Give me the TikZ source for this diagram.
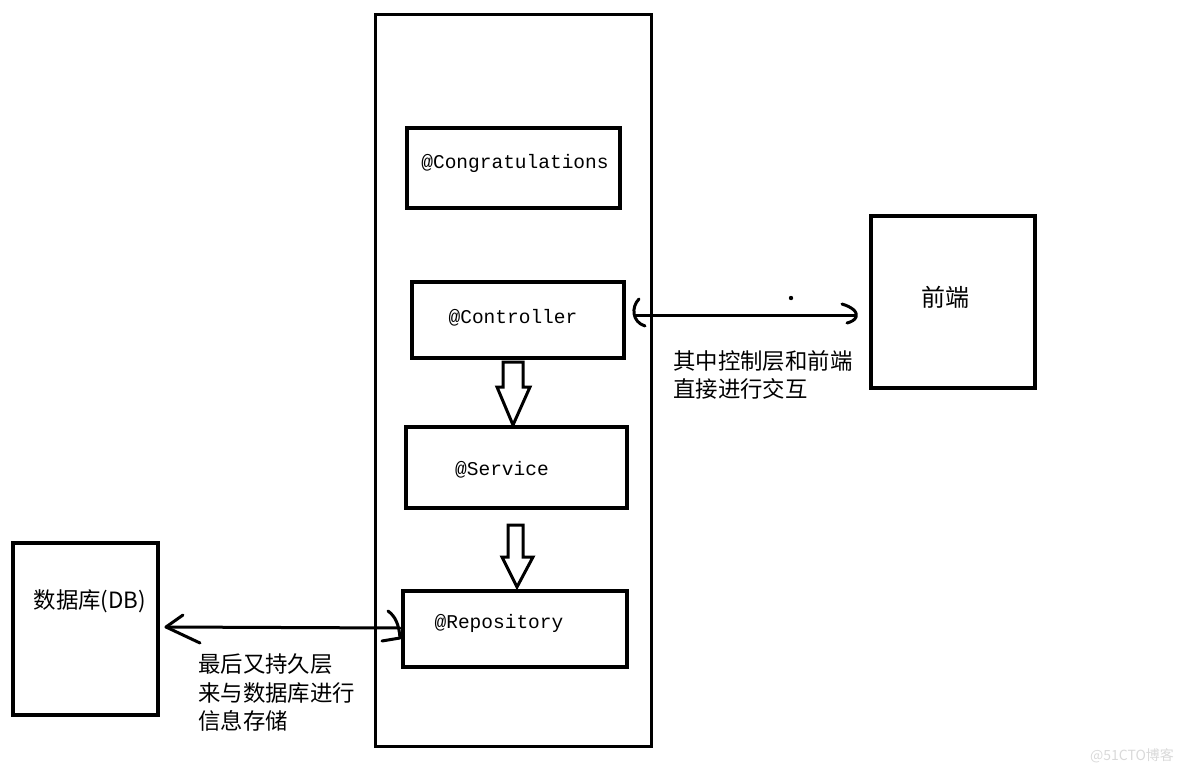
\documentclass[tikz,border=0pt]{standalone}
\usepackage{fontspec}
\setmonofont{Liberation Mono}
\newfontfamily\cjk{Noto Sans CJK SC}
\usetikzlibrary{calc}
\begin{document}
\begin{tikzpicture}[x=1pt,y=-1pt,
  lbl/.style={font=\fontsize{19.5}{22}\ttfamily},
  cjkt/.style={font=\fontsize{22.4}{28.5}\cjk,align=left,anchor=west,inner sep=0},
  conn/.style={line width=3pt,line cap=round,line join=round},
  blk/.style={line width=3pt,line join=miter}]
\useasboundingbox (0,0) rectangle (1184,774);
% main container
\draw[line width=3pt] (375,14) rectangle (651,746);
% inner boxes
\draw[line width=3.5pt] (407,128) rectangle (620,208);
\node[lbl] (cong) at (515,163) {@Congratulations};
\draw[line width=3.5pt] (412,282) rectangle (624,358);
\node[lbl] (ctrl) at (513,318) {@Controller};
\draw[line width=3.5pt] (406,427) rectangle (627,508);
\node[lbl] (serv) at (502,470) {@Service};
\draw[line width=3.5pt] (403,591) rectangle (627,667);
\node[lbl] (repo) at (499,623) {@Repository};
% front end
\draw[line width=3.5pt] (871,216) rectangle (1035,388);
\node[font=\fontsize{24}{26}\cjk] (fe) at (945,297) {前端};
% DB
\draw[line width=3.5pt] (13,543) rectangle (158,715);
\node[font=\fontsize{22.4}{24}\cjk] (db) at (90,601) {数据库(DB)};
% block arrows
\draw[blk] (503,362) -- (523,362) -- (523,387) -- (530,387) -- (513,425) -- (497,387) -- (503,387) -- cycle;
\draw[blk] (508,525) -- (523,525) -- (523,557) -- (533,557) -- (517,587) -- (502,557) -- (508,557) -- cycle;
% controller <-> frontend
\coordinate (c1) at (636,315);
\coordinate (c2) at (855,315);
\draw[conn] (c1) -- (c2);
\draw[conn] (639,299) .. controls (631,307) and (632,322) .. (645,326);
\draw[conn] (842,304) .. controls (852,307) and (858,312) .. (856,317) .. controls (855,320) and (851,322) .. (847,323);
\fill (791,298) circle (2.2);
\node[cjkt] (t1) at (673,375) {其中控制层和前端\\直接进行交互};
% repository -> DB
\coordinate (r1) at (400,628);
\coordinate (r2) at (166,627);
\draw[conn] (r1) -- (r2);
\draw[conn] (183,615) -- (r2) -- (200,643);
\draw[conn] (388,611) .. controls (395,616) and (399,624) .. (400,638) -- (382,641);
\node[cjkt] (t2) at (198,693) {最后又持久层\\来与数据库进行\\信息存储};
% watermark
\node[font=\fontsize{14}{16}\cjk,text=black!15] (wm) at (1132,756) {@51CTO博客};
\end{tikzpicture}
\end{document}
